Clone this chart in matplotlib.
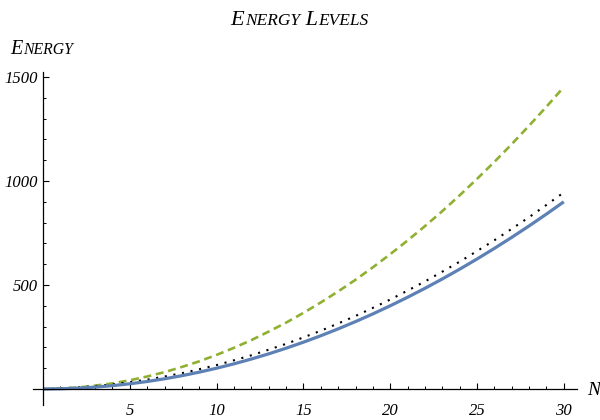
import matplotlib
matplotlib.use("Agg")
import matplotlib.pyplot as plt
from matplotlib.ticker import FixedLocator

# ---- data ----
n_vals = list(range(0, 31))
energy_solid = [0, 1, 4, 9, 16, 25, 36, 49, 64, 81, 100, 121, 144, 169, 196, 225,
                256, 289, 324, 361, 400, 441, 484, 529, 576, 625, 676, 729, 784, 841, 900]
energy_dotted = [0, 3, 7, 14, 22, 33, 45, 60, 76, 95, 115, 138, 162, 189, 217, 248,
                 280, 315, 351, 390, 430, 473, 517, 564, 612, 663, 715, 770, 826, 885, 945]
energy_dashed = [0, 2, 7, 16, 27, 42, 60, 81, 106, 133, 164, 198, 235, 276, 319, 366,
                 416, 469, 525, 585, 648, 714, 783, 855, 931, 1010, 1092, 1177, 1266, 1357, 1452]
x_major = [5, 10, 15, 20, 25, 30]
y_major = [500, 1000, 1500]
title_text = "Energy Levels"
ylabel_text = "Energy"
xlabel_text = "N"

FONT = "Liberation Serif"

fig = plt.figure(figsize=(6, 4.2), dpi=100)
ax = fig.add_axes([33/600, 1 - 405/420, (577-33)/600, (405-72)/420])
ax.set_xlim(-0.58, 30.76)
ax.set_ylim(-77, 1524)

ax.plot(n_vals, energy_dashed, color="#8FB032", lw=1.9, linestyle=(0, (3, 1.8)),
        dash_capstyle="butt")
ax.plot(n_vals, energy_dotted, color="black", lw=1.5, linestyle=(0, (1, 3.2)))
ax.plot(n_vals, energy_solid, color="#5E81B5", lw=2.3, solid_capstyle="butt")

for side in ("top", "right"):
    ax.spines[side].set_visible(False)
ax.spines["left"].set_position(("data", 0))
ax.spines["bottom"].set_position(("data", 0))
for side in ("left", "bottom"):
    ax.spines[side].set_linewidth(0.9)

ax.xaxis.set_major_locator(FixedLocator(x_major))
ax.xaxis.set_minor_locator(FixedLocator([v for v in range(1, 31) if v not in x_major]))
ax.yaxis.set_major_locator(FixedLocator(y_major))
ax.yaxis.set_minor_locator(FixedLocator([v for v in range(100, 1501, 100) if v not in y_major]))
ax.set_xticklabels([str(v) for v in x_major])
ax.set_yticklabels([str(v) for v in y_major])
ax.tick_params(axis="both", which="major", direction="in", length=4.5, width=0.8)
ax.tick_params(axis="both", which="minor", direction="in", length=2.4, width=0.7)
ax.tick_params(axis="x", which="major", pad=10)
ax.tick_params(axis="y", which="major", pad=4)
for lab in ax.get_xticklabels() + ax.get_yticklabels():
    lab.set_fontfamily(FONT)
    lab.set_fontstyle("italic")
    lab.set_fontsize(12)

renderer = fig.canvas.get_renderer()


def small_caps(text, x_px, y_px, size, ha="center"):
    """Draw italic small-caps text with baseline at y_px (pixels from bottom)."""
    pieces = []
    for ch in text:
        if ch.isupper() or ch == " ":
            pieces.append((ch, size))
        else:
            pieces.append((ch.upper(), size * 0.78))
    merged = []
    for s, sz in pieces:
        if merged and merged[-1][1] == sz:
            merged[-1][0] += s
        else:
            merged.append([s, sz])
    objs = []
    for s, sz in merged:
        t = fig.text(0, 0, s, fontsize=sz, family=FONT, style="italic",
                     va="baseline", ha="left", transform=None)
        objs.append(t)
    widths = []
    for t in objs:
        s = t.get_text()
        if s.strip() == "":
            widths.append(t.get_fontsize() * 0.3 * 100 / 72)
        else:
            bb = t.get_window_extent(renderer)
            widths.append(bb.width + 0.5)
    total = sum(widths)
    if ha == "center":
        x0 = x_px - total / 2
    elif ha == "left":
        x0 = x_px
    else:
        x0 = x_px - total
    cur = x0
    for t, w in zip(objs, widths):
        t.set_position((cur, y_px))
        cur += w


small_caps(title_text, 300, 420 - 25, 16, ha="center")
small_caps(ylabel_text, 10, 420 - 54, 14.5, ha="left")
fig.text(587, 420 - 395, xlabel_text, fontsize=14, family=FONT, style="italic",
         va="baseline", ha="left", transform=None)

fig.savefig("out.png", dpi=100)
